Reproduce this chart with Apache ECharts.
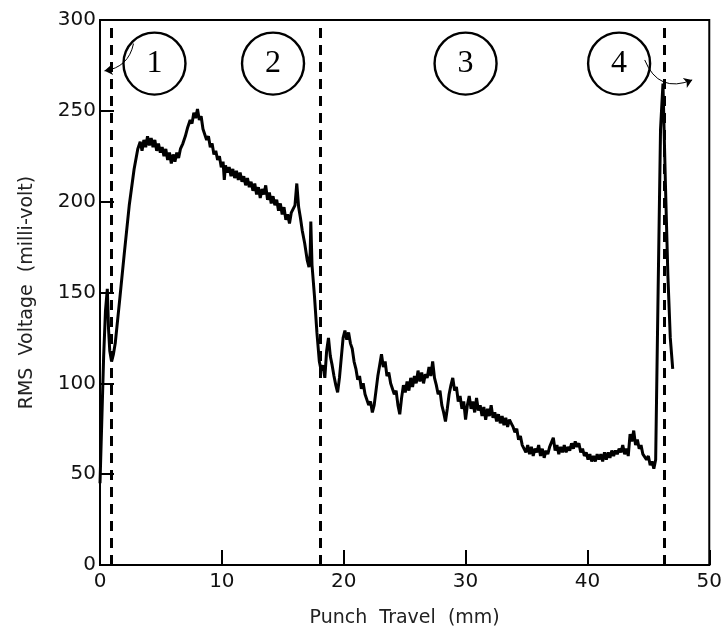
<!DOCTYPE html>
<html>
<head>
<meta charset="utf-8">
<script src="https://cdn.jsdelivr.net/npm/echarts@6/dist/echarts.min.js"></script>
<style>html,body{margin:0;padding:0;background:#fff;}#chart{width:725px;height:635px;}</style>
</head>
<body>
<div id="chart"></div>
<script>
// Punch travel (mm) vs RMS voltage (milli-volt)
const travel = [
0,0.15,0.3,0.45,0.6,0.7,0.8,0.95,1.1,1.25,
1.6,2.0,2.4,2.8,3.1,3.3,3.45,3.6,3.75,3.9,
4.05,4.2,4.35,4.5,4.65,4.8,4.95,5.1,5.25,5.4,
5.55,5.7,5.85,6.0,6.15,6.3,6.45,6.6,6.8,7.0,
7.2,7.4,7.55,7.7,7.85,8.0,8.15,8.3,8.45,8.6,
8.75,8.9,9.05,9.2,9.35,9.5,9.65,9.8,9.95,10.1,
10.2,10.3,10.45,10.6,10.75,10.9,11.05,11.2,11.35,11.5,
11.65,11.8,11.95,12.1,12.25,12.4,12.55,12.7,12.85,13.0,
13.15,13.3,13.45,13.6,13.75,13.9,14.05,14.2,14.35,14.5,
14.65,14.8,14.95,15.1,15.25,15.4,15.55,15.7,15.85,16.0,
16.15,16.3,16.45,16.6,16.8,17.0,17.15,17.25,17.3,17.4,
17.6,17.8,18.0,18.15,18.3,18.45,18.6,18.75,18.9,19.05,
19.2,19.35,19.5,19.65,19.8,19.95,20.1,20.25,20.4,20.55,
20.7,20.85,21.0,21.15,21.3,21.45,21.6,21.75,21.9,22.05,
22.2,22.35,22.5,22.65,22.8,22.95,23.1,23.25,23.4,23.55,
23.7,23.85,24.0,24.15,24.3,24.45,24.6,24.75,24.9,25.05,
25.2,25.35,25.5,25.65,25.8,25.95,26.1,26.25,26.4,26.55,
26.7,26.85,27.0,27.15,27.3,27.45,27.6,27.75,27.9,28.05,
28.2,28.35,28.5,28.65,28.8,28.95,29.1,29.25,29.4,29.55,
29.7,29.85,30.0,30.15,30.3,30.45,30.6,30.75,30.9,31.05,
31.2,31.35,31.5,31.65,31.8,31.95,32.1,32.25,32.4,32.55,
32.7,32.85,33.0,33.15,33.3,33.45,33.6,33.75,33.9,34.05,
34.2,34.35,34.5,34.65,34.8,34.95,35.1,35.25,35.4,35.55,
35.7,35.85,36.0,36.15,36.3,36.45,36.6,36.75,36.9,37.05,
37.2,37.35,37.5,37.65,37.8,37.95,38.1,38.25,38.4,38.55,
38.7,38.85,39.0,39.15,39.3,39.45,39.6,39.75,39.9,40.05,
40.2,40.35,40.5,40.65,40.8,40.95,41.1,41.25,41.4,41.55,
41.7,41.85,42.0,42.15,42.3,42.45,42.6,42.75,42.9,43.05,
43.2,43.35,43.5,43.65,43.8,43.95,44.1,44.25,44.4,44.55,
44.7,44.85,45.0,45.15,45.3,45.45,45.6,45.8,46.0,46.2,
46.4,46.6,46.8,47.0];
const voltage = [
45,80,115,140,152,130,118,112,116,122,
145,172,198,218,229,233,228,234,230,236,
231,235,230,234,228,232,227,230,225,229,
223,227,221,226,222,227,224,229,232,236,
241,245,243,249,246,251,245,247,240,240,
234,236,230,232,226,228,223,225,219,222,
212,220,216,219,214,218,213,217,212,216,
211,214,209,213,208,211,206,210,204,208,
202,207,204,209,201,205,199,203,198,201,
195,199,193,197,190,193,188,194,193,198,
210,197,191,184,177,168,164,172,189,165,
148,128,112,107,110,103,118,125,115,110,
104,99,95,103,114,125,129,124,128,122,
119,112,108,102,104,97,100,94,93,88,
90,84,88,96,104,110,116,109,112,104,
106,100,101,94,96,88,83,92,99,95,
101,96,103,98,104,100,107,101,106,100,
105,103,109,104,112,103,99,94,96,88,
84,79,86,94,99,103,96,98,90,93,
86,90,80,88,93,86,90,84,92,85,
88,82,87,80,86,82,88,81,84,79,
83,78,82,77,81,76,80,78,76,73,
75,69,71,66,67,62,66,61,65,60,
64,62,66,60,64,59,63,61,65,64,
70,63,66,61,65,62,66,62,65,63,
67,64,68,65,67,62,64,60,62,58,
61,57,60,57,61,58,61,57,62,58,
62,59,63,60,63,61,64,62,66,61,
64,60,72,68,74,66,69,64,66,61,
62,58,60,55,57,53,58,150,240,265,
210,160,125,108];
const phaseBounds = [0.95, 18.07, 46.27];
const phaseLabels = ['1','2','3','4'];
const phaseLabelX = [4.47, 14.2, 30.0, 42.6];
const phaseLabelY = 276;
const xTicks = [0,10,20,30,40,50];
const yTicks = [0,50,100,150,200,250,300];

const chart = echarts.init(document.getElementById('chart'));
const axisFont = {fontFamily:'DejaVu Sans', fontSize:20, color:'#111'};
const nameFont = {fontFamily:'DejaVu Sans', fontSize:19, color:'#222'};
chart.setOption({
  animation:false,
  backgroundColor:'#fff',
  grid:{left:100, right:15, top:20, bottom:70, show:true, borderColor:'#000', borderWidth:2},
  xAxis:{
    type:'value', min:xTicks[0], max:xTicks[xTicks.length-1], interval:10,
    name:'Punch  Travel  (mm)', nameLocation:'middle', nameGap:44,
    nameTextStyle:nameFont,
    axisLine:{show:true, onZero:false, lineStyle:{color:'#000', width:2}},
    axisTick:{show:true, inside:true, length:15, lineStyle:{color:'#000', width:2}},
    axisLabel:Object.assign({margin:7}, axisFont),
    splitLine:{show:false}
  },
  yAxis:{
    type:'value', min:yTicks[0], max:yTicks[yTicks.length-1], interval:50,
    name:'RMS  Voltage  (milli-volt)', nameLocation:'middle', nameGap:63, nameRotate:90,
    nameTextStyle:Object.assign({}, nameFont, {fontSize:19}),
    axisLine:{show:true, onZero:false, lineStyle:{color:'#000', width:2}},
    axisTick:{show:true, inside:true, length:14, lineStyle:{color:'#000', width:2}},
    axisLabel:Object.assign({margin:4}, axisFont),
    splitLine:{show:false}
  },
  series:[
    {
      type:'line', data:travel.map((x,i)=>[x,voltage[i]]),
      showSymbol:false, symbol:'none',
      lineStyle:{color:'#000', width:3},
      markLine:{
        silent:true, symbol:['none','none'], label:{show:false},
        lineStyle:{type:[10,7], width:3, color:'#000', opacity:1},
        emphasis:{disabled:true},
        data:phaseBounds.map(v=>({xAxis:v}))
      },
      z:3
    },
    {
      type:'scatter',
      data:phaseLabels.map((t,i)=>[phaseLabelX[i], phaseLabelY, t]),
      symbol:'circle', symbolSize:62,
      itemStyle:{color:'rgba(255,255,255,0)', borderColor:'#000', borderWidth:2.4, opacity:1},
      label:{show:true, position:'inside', formatter:p=>p.data[2],
        fontFamily:'Liberation Serif', fontSize:32, color:'#000'},
      z:4
    },
    {
      type:'lines', coordinateSystem:'cartesian2d', polyline:false,
      symbol:['none','arrow'], symbolSize:8,
      lineStyle:{color:'#000', width:1, opacity:1, curveness:0.35},
      data:[
        {coords:[[2.75,287],[0.37,272]]},
        {coords:[[44.7,278],[48.6,267]], lineStyle:{curveness:-0.5}}
      ],
      z:5
    }
  ]
});
</script>
</body>
</html>
